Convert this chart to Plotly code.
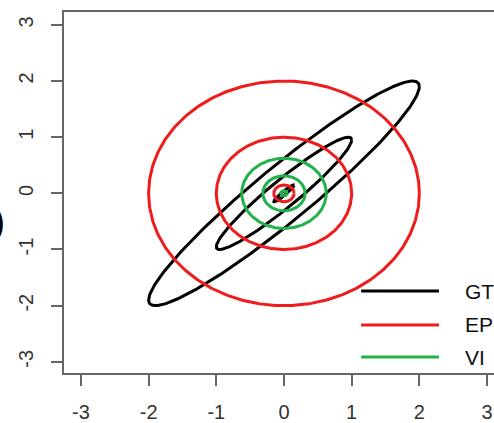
import numpy as np
import plotly.graph_objects as go

# ---- data ----
rho = 0.95                       # correlation of the true (GT) Gaussian
levels = [0.15, 1.0, 2.0]        # Mahalanobis contour levels drawn
series_names = ["GT", "EP", "VI"]
series_colors = ["#000000", "#ee1c1c", "#22b24a"]
series_cov = {
    "GT": [[1.0, rho], [rho, 1.0]],
    "EP": [[1.0, 0.0], [0.0, 1.0]],
    "VI": [[1.0 - rho ** 2, 0.0], [0.0, 1.0 - rho ** 2]],
}
x_ticks = [-3, -2, -1, 0, 1, 2, 3]
y_ticks = [-3, -2, -1, 0, 1, 2, 3]

t = np.linspace(0, 2 * np.pi, 400)
circle = np.vstack([np.cos(t), np.sin(t)])

fig = go.Figure()
for name, col in zip(series_names, series_colors):
    L = np.linalg.cholesky(np.array(series_cov[name]))
    for c in levels:
        pts = c * (L @ circle)
        fig.add_trace(go.Scatter(x=pts[0], y=pts[1], mode="lines",
                                 line=dict(color=col, width=3),
                                 showlegend=False, hoverinfo="skip"))

# manual legend (R style, no box)
leg_y = [0.227, 0.133, 0.044]
for name, col, yy in zip(series_names, series_colors, leg_y):
    fig.add_shape(type="line", xref="paper", yref="paper",
                  x0=0.691, x1=0.872, y0=yy, y1=yy,
                  line=dict(color=col, width=3))
    fig.add_annotation(x=0.928, y=yy, xref="paper", yref="paper",
                       text=name, showarrow=False, xanchor="left",
                       yanchor="middle",
                       font=dict(family="Liberation Sans, Arial", size=21,
                                 color="#111111"))

# stray cropped label at left edge
fig.add_annotation(x=0, y=0.42, xref="paper", yref="paper", text=")",
                   showarrow=False, xanchor="right", yanchor="middle",
                   xshift=-57,
                   font=dict(family="Liberation Sans, Arial", size=36,
                             color="#000000"))

axis_font = dict(family="Liberation Sans, Arial", size=20, color="#333333")
fig.update_xaxes(range=[-3.25, 3.103], tickvals=x_ticks,
                 ticktext=[str(v) for v in x_ticks],
                 showgrid=False, zeroline=False,
                 showline=True, mirror=True, linecolor="#666666", linewidth=2,
                 ticks="outside", ticklen=11, tickwidth=1.5, tickcolor="#666666",
                 tickfont=axis_font, ticklabelstandoff=9)
fig.update_yaxes(range=[-3.2, 3.23], tickvals=y_ticks,
                 ticktext=[str(v) for v in y_ticks],
                 showgrid=False, zeroline=False,
                 showline=True, mirror=False, linecolor="#666666", linewidth=2,
                 ticks="outside", ticklen=11, tickwidth=1.5, tickcolor="#666666",
                 tickfont=axis_font, tickangle=-90, ticklabelstandoff=10)

fig.update_layout(width=494, height=423,
                  margin=dict(l=64, r=0, t=12, b=50),
                  plot_bgcolor="white", paper_bgcolor="white",
                  showlegend=False)

fig.write_html("out.html")
